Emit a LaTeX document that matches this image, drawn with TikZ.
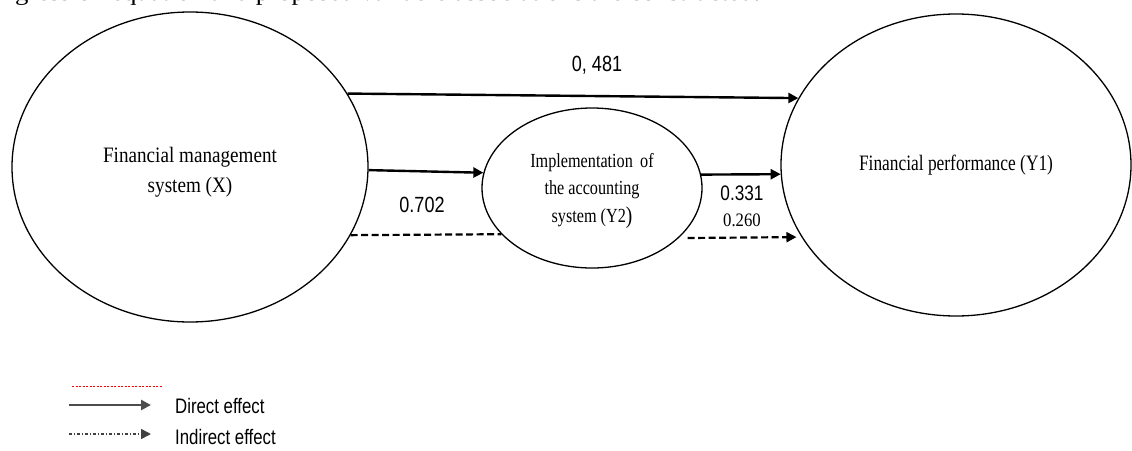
\documentclass[tikz,border=0pt]{standalone}
\usepackage{graphicx}
\usepackage{fontspec}
\setmainfont{Liberation Serif}
\setsansfont{Liberation Sans}
\usetikzlibrary{shapes.geometric,arrows.meta}
\newcommand{\nar}[2]{\scalebox{#1}[1]{#2}}
\begin{document}
\begin{tikzpicture}[x=1pt,y=-1pt,
  oval/.style={ellipse, draw, line width=1.3pt, inner sep=0pt},
  tip/.style={-{Triangle[length=10pt,width=10pt]}},
  conn/.style={line width=2.4pt, tip},
  dconn/.style={line width=2.2pt, dash pattern=on 7pt off 3.5pt},
  lbl/.style={font=\sffamily\fontsize{22}{24}\selectfont, inner sep=0pt, anchor=base},
  sertxt/.style={font=\rmfamily, inner sep=0pt, align=center},
  legtxt/.style={font=\sffamily\fontsize{21}{24}\selectfont, inner sep=0pt, anchor=base west},
]
\useasboundingbox (0,0) rectangle (1132,450);
\clip (0,0) rectangle (1132,450);

% cut-off caption line at the top
\node[font=\rmfamily\fontsize{23}{26}\selectfont, inner sep=0pt, anchor=base west] (cap) at (15,0.5)
  {\resizebox{745pt}{\height}{gression equation and proposed variable associations are constructed.}};

% ellipses
\node[oval, minimum width=356pt, minimum height=310pt] (X) at (190,167) {};
\node[oval, minimum width=350pt, minimum height=302pt] (Y1) at (956,165) {};
\node[oval, minimum width=220pt, minimum height=160pt] (Y2) at (592,188) {};

% ellipse texts
\node[sertxt, font=\rmfamily\fontsize{22}{30}\selectfont] (tX) at (190,172)
  {\nar{0.87}{Financial management}\\\nar{0.87}{system (X)}};
\node[sertxt, font=\rmfamily\fontsize{22}{26}\selectfont, anchor=base] (tY1) at (956,170)
  {\nar{0.79}{Financial performance (Y1)}};
\node[sertxt, font=\rmfamily\fontsize{20}{27.5}\selectfont] (tY2) at (592,191)
  {\nar{0.81}{Implementation\hspace{4pt} of}\\\nar{0.81}{the accounting}\\\nar{0.81}{system (Y2\raisebox{-1pt}{\fontsize{24}{24}\selectfont)}}};

% connectors
\draw[conn] (X.25.5) -- (Y1.157.8);
\draw[conn] (X.-1.9) -- (Y2.172.1);
\draw[dconn] (X.-23) -- (Y2.207.8);
\draw[conn] (Y2.7.4) -- (Y1.183);
\draw[dconn, tip, shorten <=9pt, shorten >=5pt] (Y2.-30.2) -- (Y1.205.5);

% coefficient labels
\node[lbl] (c481) at (597,71) {\nar{0.82}{0, 481}};
\node[lbl] (c702) at (422,212) {\nar{0.82}{0.702}};
\node[lbl, font=\sffamily\fontsize{21}{24}\selectfont] (c331) at (742,200) {\nar{0.82}{0.331}};
\node[lbl, font=\rmfamily\fontsize{19}{22}\selectfont] (c260) at (742,226) {\nar{0.88}{0.260}};

% legend
\coordinate (r1) at (72,386);
\coordinate (r2) at (162,386);
\draw[red, line width=0.6pt, dash pattern=on 2pt off 1.5pt] (r1) -- (r2);
\coordinate (d1) at (69,405);
\coordinate (d2) at (151,405);
\draw[line width=2.6pt, draw=black!70, tip] (d1) -- (d2);
\coordinate (i1) at (69,434);
\coordinate (i2) at (151,434);
\draw[line width=1.6pt, draw=black!75, dash pattern=on 3pt off 2pt on 1pt off 2pt, tip] (i1) -- (i2);
\node[legtxt] (lD) at (175,413) {\nar{0.8}{Direct effect}};
\node[legtxt] (lI) at (175,444) {\nar{0.8}{Indirect effect}};
\end{tikzpicture}
\end{document}
